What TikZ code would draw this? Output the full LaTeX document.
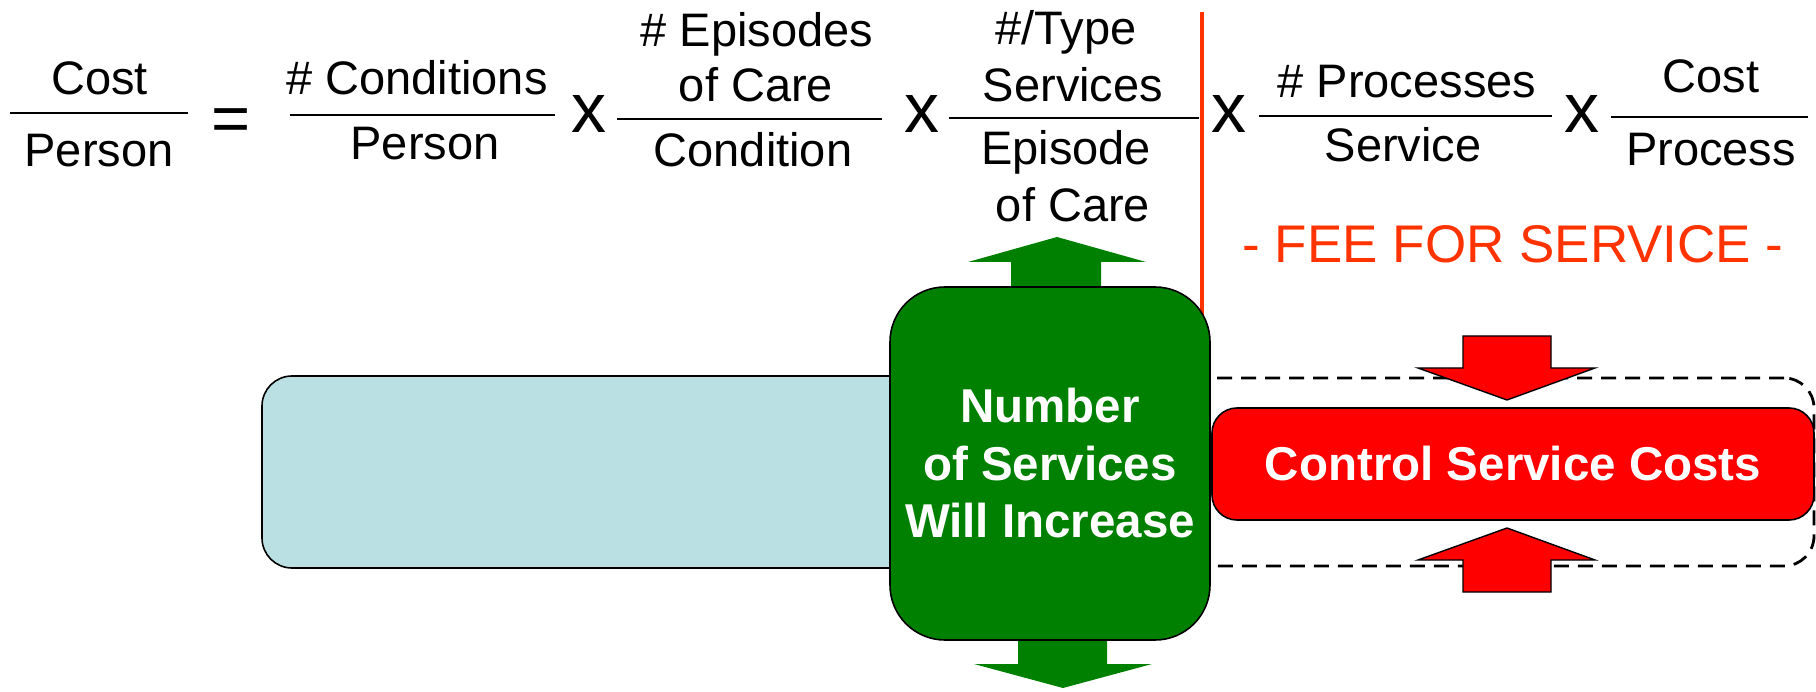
\documentclass[tikz,border=0pt]{standalone}
\usepackage{fontspec}
\setmainfont{Liberation Sans}
\definecolor{feered}{HTML}{FF3300}
\definecolor{boxgreen}{HTML}{008000}
\definecolor{boxred}{HTML}{FF0000}
\definecolor{paleblue}{HTML}{BAE0E3}
\begin{document}
\begin{tikzpicture}[x=1pt,y=-1pt,
  term/.style={anchor=base, inner sep=0pt, font=\fontsize{47}{56}\selectfont},
  times/.style={anchor=base, inner sep=0pt, font=\fontsize{70}{80}\selectfont},
  fracbar/.style={line width=2.5pt},
  outlined/.style={draw=black, line width=1.6pt},
  blockgreen/.style={fill=boxgreen},
  blockred/.style={fill=boxred, draw=black, line width=1.4pt, line join=miter},
  boxlabel/.style={text=white, align=center, font=\bfseries\fontsize{47.5}{57.5}\selectfont}]
\useasboundingbox (0,0) rectangle (1816,692);

% ---------- cost equation ----------
\node[term] (costA)    at (99.5,95)  {Cost};
\node[term] (personA)  at (99,167)   {Person};
\draw[fracbar] (10,113) coordinate (barAl) -- (188,113) coordinate (barAr);

\node[anchor=base, inner sep=0pt, font=\fontsize{67}{70}\selectfont] (eq) at (231,142) {=};

\node[term] (cond)     at (417,95)   {\# Conditions};
\node[term] (personB)  at (425,160)  {Person};
\draw[fracbar] (290,115) coordinate (barBl) -- (555,115) coordinate (barBr);

\node[times] (xA) at (589,133) {x};

\node[term] (episA)    at (757,47)   {\# Episodes};
\node[term] (careA)    at (756,102)  {of Care};
\node[term] (condB)    at (753,167)  {Condition};
\draw[fracbar] (617,119) coordinate (barCl) -- (882,119) coordinate (barCr);

\node[times] (xB) at (922,133) {x};

\node[term] (typeA)    at (1066,45)  {\#/Type};
\node[term] (servA)    at (1073,102) {Services};
\node[term] (episB)    at (1066,165) {Episode};
\node[term] (careB)    at (1073,222) {of Care};
\draw[fracbar] (949,118) coordinate (barDl) -- (1199,118) coordinate (barDr);

\node[times] (xC) at (1228.5,133) {x};

\node[term] (procA)    at (1407,98)  {\# Processes};
\node[term] (servB)    at (1403,162) {Service};
\draw[fracbar] (1259,116) coordinate (barEl) -- (1552,116) coordinate (barEr);

\node[times] (xD) at (1581.5,133) {x};

\node[term] (costB)    at (1711,93)  {Cost};
\node[term] (procB)    at (1711,166) {Process};
\draw[fracbar] (1611,117) coordinate (barFl) -- (1808,117) coordinate (barFr);

\node[anchor=base, inner sep=0pt, text=feered, font=\fontsize{53}{60}\selectfont]
  (fee) at (1513,263) {- FEE FOR SERVICE -};

% ---------- lower diagram ----------
% dashed frame round the cost control box
\node[draw=black, dashed, dash pattern=on 15pt off 9pt, line width=2.8pt,
      rounded corners=30pt, minimum width=664pt, minimum height=188pt,
      inner sep=0pt] (frame) at (1482,472) {};

% pale blue bar
\node[outlined, fill=paleblue, rounded corners=30pt,
      minimum width=690pt, minimum height=192pt, inner sep=0pt]
  (blue) at (607,472) {};

% fee-for-service divider
\draw[feered, line width=4pt] (1202,12) coordinate (divtop) -- (1202,330) coordinate (divbot);

% green block arrows
\fill[blockgreen] (1011,300) -- (1011,262) -- (968,262) -- (1057,237)
  -- (1146,262) -- (1101,262) -- (1101,300) -- cycle;
\fill[blockgreen] (1018,625) -- (1018,664) -- (974,664) -- (1063,688)
  -- (1152,664) -- (1107,664) -- (1107,625) -- cycle;

% green box
\node[outlined, fill=boxgreen, rounded corners=55pt,
      minimum width=320pt, minimum height=353pt, inner sep=0pt, boxlabel]
  (green) at (1050,463.5) {Number\\of Services\\Will Increase};

% red box
\node[outlined, fill=boxred, rounded corners=25pt,
      minimum width=602pt, minimum height=112pt, inner sep=0pt, boxlabel]
  (red) at (1513,464) {Control Service Costs};

% red block arrows squeezing the red box
\filldraw[blockred] (1463,336) -- (1551,336) -- (1551,368) -- (1595,368)
  -- (1507,400) -- (1418,368) -- (1463,368) -- cycle;
\filldraw[blockred] (1507,528) -- (1595,560) -- (1551,560) -- (1551,592)
  -- (1463,592) -- (1463,560) -- (1418,560) -- cycle;
\end{tikzpicture}
\end{document}
